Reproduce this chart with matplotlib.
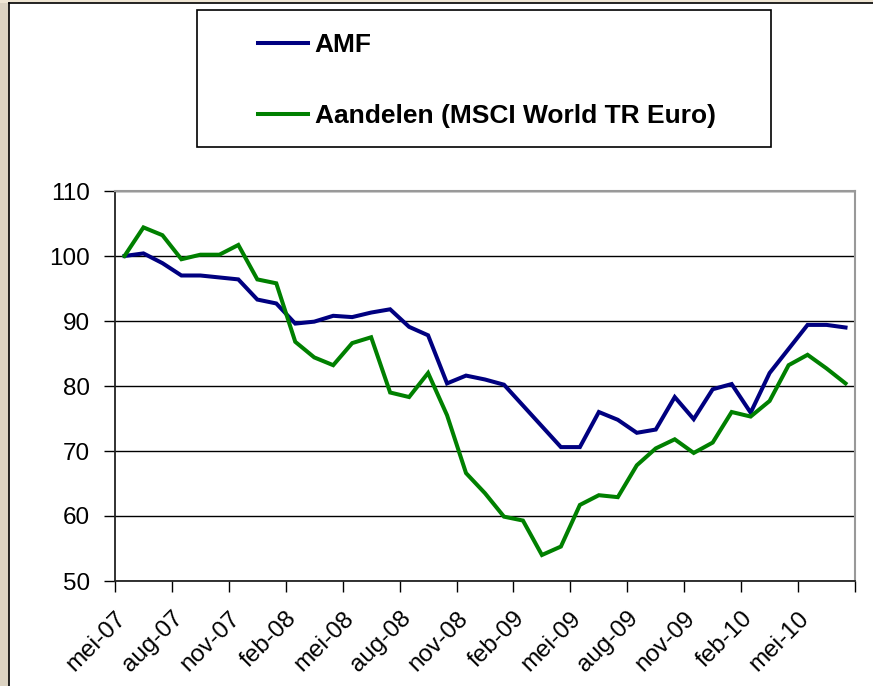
import numpy as np
import matplotlib.pyplot as plt
from matplotlib.patches import Rectangle
from matplotlib.lines import Line2D

# Maandelijkse waarden, mei-07 t/m jul-10 (index, start = 100)
amf = [100.0, 100.4, 98.9, 97.0, 97.0, 96.7, 96.4, 93.3, 92.7, 89.6,
       89.9, 90.8, 90.6, 91.3, 91.8, 89.1, 87.8, 80.4, 81.6, 81.0,
       80.2, 77.0, 73.8, 70.6, 70.6, 76.0, 74.8, 72.8, 73.3, 78.3,
       74.9, 79.5, 80.3, 75.9, 82.0, 85.7, 89.4, 89.4, 89.0]
aandelen = [100.0, 104.4, 103.2, 99.5, 100.2, 100.2, 101.7, 96.4, 95.8, 86.8,
            84.4, 83.2, 86.6, 87.5, 79.0, 78.3, 82.0, 75.5, 66.6, 63.5,
            59.9, 59.3, 54.0, 55.3, 61.7, 63.2, 62.9, 67.8, 70.4, 71.8,
            69.7, 71.3, 76.0, 75.3, 77.7, 83.2, 84.8, 82.7, 80.4]
tick_labels = ['mei-07', 'aug-07', 'nov-07', 'feb-08', 'mei-08', 'aug-08',
               'nov-08', 'feb-09', 'mei-09', 'aug-09', 'nov-09', 'feb-10',
               'mei-10', '']
yticks = [50, 60, 70, 80, 90, 100, 110]

W, H = 873, 686
fig = plt.figure(figsize=(W / 100, H / 100), dpi=100)
fig.patch.set_facecolor('white')

# achtergrond links/boven (beige) en kader van de grafiek
fig.patches.append(Rectangle((0, 0), 9 / W, 1, transform=fig.transFigure,
                             facecolor='#dcd3c2', edgecolor='none', zorder=0))
fig.patches.append(Rectangle((0, 1 - 3 / H), 1, 3 / H, transform=fig.transFigure,
                             facecolor='#efe6d4', edgecolor='none', zorder=0))
fig.lines.append(Line2D([9 / W, 9 / W], [0, 1 - 3 / H], transform=fig.transFigure,
                        color='black', lw=1.2))
fig.lines.append(Line2D([9 / W, 1], [1 - 3 / H, 1 - 3 / H], transform=fig.transFigure,
                        color='black', lw=1.2))

ax = fig.add_axes([115 / W, 1 - 581 / H, (855 - 115) / W, (581 - 191) / H])
x = np.arange(len(amf)) + 0.5
l1, = ax.plot(x, amf, color='#000080', lw=2.9, solid_joinstyle='miter')
l2, = ax.plot(x, aandelen, color='#008000', lw=2.9, solid_joinstyle='miter')

ax.set_xlim(0, len(amf))
ax.set_ylim(50, 110)
ax.set_yticks(yticks)
ax.set_xticks(np.arange(0, len(amf) + 1, 3))
ax.set_xticklabels(tick_labels, rotation=45, ha='right', va='top',
                   rotation_mode='anchor')
ax.grid(axis='y', color='black', lw=1)
ax.set_axisbelow(True)
for s in ['top', 'right']:
    ax.spines[s].set_color('#999999')
    ax.spines[s].set_linewidth(1.5)
for s in ['left', 'bottom']:
    ax.spines[s].set_color('#222222')
    ax.spines[s].set_linewidth(1.3)
ax.tick_params(axis='both', direction='out', length=8, width=1, labelsize=17.5,
               colors='black')
ax.tick_params(axis='y', pad=10)
ax.tick_params(axis='x', pad=11)
for lab in ax.get_xticklabels() + ax.get_yticklabels():
    lab.set_family('Liberation Sans')

# legenda in eigen kader
fig.patches.append(Rectangle((197 / W, 1 - 147 / H), (771 - 197) / W, 137 / H,
                             transform=fig.transFigure, facecolor='white',
                             edgecolor='black', lw=1.2, zorder=1))
fig.legend([l1, l2], ['AMF', 'Aandelen (MSCI World TR Euro)'],
           loc='upper left', bbox_to_anchor=(258 / W, 1 - 33 / H),
           frameon=False, borderpad=0, borderaxespad=0,
           handlelength=1.9, handletextpad=0.25, labelspacing=1.8,
           prop={'family': 'Liberation Sans', 'weight': 'bold', 'size': 19})

fig.savefig('out.png', dpi=100)
